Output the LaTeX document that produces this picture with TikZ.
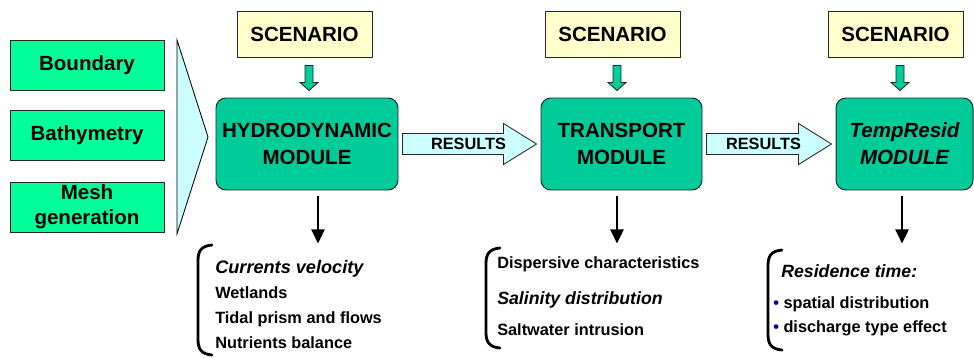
\documentclass[tikz,border=0pt]{standalone}
\usepackage{fontspec}
\setmainfont{Liberation Sans}
\usetikzlibrary{arrows.meta, calc}
\definecolor{inputgreen}{RGB}{0, 255, 153}
\definecolor{modgreen}{RGB}{0, 204, 153}
\definecolor{scenyellow}{RGB}{255, 255, 204}
\definecolor{palecyan}{RGB}{204, 255, 255}
\definecolor{dotblue}{RGB}{0, 0, 153}
\newlength\pxl
\setlength\pxl{0.025cm}

\begin{document}
\begin{tikzpicture}[x=0.025cm, y=-0.025cm,
  inbox/.style={draw=black!85, line width=0.7pt, fill=inputgreen, minimum width=154\pxl, minimum height=50\pxl, inner sep=0pt, align=center, font=\fontsize{14.6}{17.8}\selectfont\bfseries},
  scenbox/.style={draw=black!85, line width=0.7pt, fill=scenyellow, minimum width=135\pxl, minimum height=46\pxl, inner sep=0pt, font=\fontsize{14.6}{17.8}\selectfont\bfseries},
  modbox/.style={draw=black!85, line width=0.7pt, fill=modgreen, rounded corners=7pt, minimum height=92\pxl, inner sep=0pt, align=center, font=\fontsize{14.6}{19.2}\selectfont\bfseries},
  chevron/.style={draw=black, line width=0.6pt, fill=palecyan},
  scenarrow/.style={draw=black!85, line width=0.6pt, fill=modgreen},
  resarrow/.style={draw=black!85, line width=0.6pt, fill=palecyan},
  reslabel/.style={font=\fontsize{11.6}{13}\selectfont\bfseries, inner sep=0pt},
  outarrow/.style={line width=2pt, -{Triangle[width=9.2pt, length=10pt]}},
  brack/.style={line width=2pt, line cap=round},
  item/.style={anchor=base west, inner sep=0pt, font=\fontsize{11.6}{13}\selectfont\bfseries},
  itemit/.style={item, font=\fontsize{12.6}{14}\selectfont\bfseries\itshape}
]
  \useasboundingbox (0,0) rectangle (974,357);

  % Inputs
  \node[inbox] (bound) at (87, 65) {Boundary};
  \node[inbox] (bathy) at (87, 135) {Bathymetry};
  \node[inbox] (mesh) at (87, 207) {Mesh\\generation};
  \draw[chevron] (177, 40) -- (208, 137) -- (177, 234) -- cycle;

  % Scenarios
  \node[scenbox] (scen1) at (304.5, 34) {SCENARIO};
  \node[scenbox] (scen2) at (612.5, 34) {SCENARIO};
  \node[scenbox] (scen3) at (895.5, 34) {SCENARIO};

  % Modules
  \node[modbox, minimum width=182\pxl] (hydro) at (307, 144) {HYDRODYNAMIC\\MODULE};
  \node[modbox, minimum width=161\pxl] (trans) at (621.5, 144) {TRANSPORT\\MODULE};
  \node[modbox, minimum width=137\pxl] (resid) at (904.5, 144) {{\itshape TempResid}\\{\itshape MODULE}};

  % Scenario arrows
  \foreach \s in {scen1, scen2, scen3} {
    \draw[scenarrow] ($(\s.south)+(0.5, 8)$) -- ++(8, 0) -- ++(0, 17) -- ++(5, 0)
      -- ($(\s.south)+(4.5, 33)$) -- ($(\s.south)+(-4.5, 25)$) -- ++(5, 0) -- cycle;
  }

  % Results arrows
  \foreach \a/\b in {hydro/trans, trans/resid} {
    \draw[resarrow] ($(\a.east)+(4, -10.5)$) -- ($(\b.west)+(-37, -10.5)$)
      -- ($(\b.west)+(-37, -20.5)$) -- ($(\b.west)+(-4, 0)$)
      -- ($(\b.west)+(-37, 20.5)$) -- ($(\b.west)+(-37, 10.5)$)
      -- ($(\a.east)+(4, 10.5)$) -- cycle;
    \node[reslabel] (res-\a) at ($(\b.west)+(-72, 0)$) {RESULTS};
  }

  % Output arrows
  \coordinate (hydroout) at ($(hydro.south)+(11, 53)$);
  \coordinate (transout) at ($(trans.south)+(-4.5, 53)$);
  \coordinate (residout) at ($(resid.south)+(-2.5, 53)$);
  \draw[outarrow] ($(hydro.south)+(11, 6)$) -- (hydroout);
  \draw[outarrow] ($(trans.south)+(-4.5, 6)$) -- (transout);
  \draw[outarrow] ($(resid.south)+(-2.5, 6)$) -- (residout);

  % Brackets
  \foreach \x/\t/\b in {198/245/355, 486/248/348, 768/250/350} {
    \draw[brack] ({\x+14}, \t) .. controls ({\x+3}, {\t+1}) and (\x, {\t+6}) .. (\x, {\t+16})
      -- (\x, {\b-16}) .. controls (\x, {\b-6}) and ({\x+3}, {\b-1}) .. ({\x+14}, \b);
  }

  % Hydrodynamic results
  \node[itemit, font=\fontsize{12.9}{14}\selectfont\bfseries\itshape] (cur) at (215, 273) {Currents velocity};
  \node[item] (wet) at (215, 298) {Wetlands};
  \node[item] (tid) at (215, 323) {Tidal prism and flows};
  \node[item] (nut) at (215, 348) {Nutrients balance};

  % Transport results
  \node[item] (disp) at (497, 268) {Dispersive characteristics};
  \node[itemit] (sal) at (497, 304) {Salinity distribution};
  \node[item] (salt) at (497, 335) {Saltwater intrusion};

  % TempResid results
  \node[itemit] (rt) at (781, 277) {Residence time:};
  \node[item] (spat) at (773, 308) {\textcolor{dotblue}{•} spatial distribution};
  \node[item] (dis) at (773, 332) {\textcolor{dotblue}{•} discharge type effect};
\end{tikzpicture}
\end{document}
